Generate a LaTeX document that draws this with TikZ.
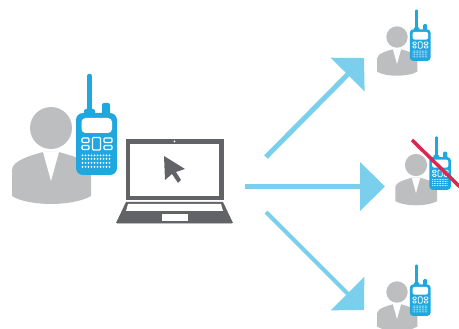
\documentclass[tikz,border=0pt]{standalone}
\usetikzlibrary{arrows.meta}
\definecolor{persongray}{HTML}{BCBEC0}
\definecolor{radioblue}{HTML}{1FA8DF}
\definecolor{arrowblue}{HTML}{7ACFEC}
\definecolor{laptopgray}{HTML}{626366}
\definecolor{crossred}{HTML}{D9274F}
\tikzset{
  signal/.style={arrowblue,line width=5pt},
  bighead/.style={-{Triangle[length=25pt,width=48pt,fill=arrowblue]}},
  diaghead/.style={-{Triangle[length=23.3pt,width=46.7pt,fill=arrowblue]}},
  radiokey/.style={draw=white,rounded corners=1pt}
}
% person with radio, origin at the centre of the head
\newcommand{\talker}[3]{
\begin{scope}[shift={(#1,#2)},scale=#3]
\fill[persongray] (0,0) circle (21);
\fill[persongray] (-39,42) .. controls (-39,32) and (-18,27) .. (-8,24) -- (8,24)
  .. controls (18,27) and (30,30) .. (40,37) -- (40,68)
  .. controls (30,74) and (12,76) .. (0,76) .. controls (-12,76) and (-30,74) .. (-39,68) -- cycle;
\fill[white] (-8,24) -- (0,53) -- (8,24) -- cycle;
\draw[radioblue,line width=#3*4.5pt,line cap=round] (38.5,-52) -- (38.5,-18);
\fill[radioblue,rounded corners=#3*2pt] (33,-19) rectangle (44,-13);
\fill[radioblue,rounded corners=#3*2pt] (51,-25) rectangle (59,-13);
\fill[radioblue,rounded corners=#3*7pt] (25,-15) rectangle (66,47);
\fill[white,rounded corners=#3*4pt] (30.5,-10) rectangle (61,5);
\begin{scope}[line width=#3*1.4pt]
\draw[radiokey] (31,10) rectangle (38,14.5);
\draw[radiokey] (31,17.5) rectangle (38,21.5);
\draw[radiokey] (41.5,9.5) rectangle (49.5,22);
\draw[radiokey] (53,10) rectangle (61,14.5);
\draw[radiokey] (53,17.5) rectangle (61,21.5);
\end{scope}
\foreach \dotrow in {27.5,31,35,39}
  \foreach \dotcol in {31.5,34.5,...,61}
    \fill[white] (\dotcol,\dotrow) circle (1);
\end{scope}
}
\begin{document}
\begin{tikzpicture}[x=1pt,y=-1pt]
\useasboundingbox (0,0) rectangle (459,329);

% left person
\talker{51}{128}{1}

% laptop
\fill[laptopgray] (126,139) rectangle (224,200);
\fill[white] (130,144) rectangle (219,196);
\fill[white] (174.5,141.5) circle (1);
\fill[laptopgray] (164,156) -- (185,169) -- (176,172) -- (181,180) -- (178,183) -- (172,174) -- (165,180) -- cycle;
\fill[laptopgray] (126,202) -- (223,202) -- (233,223) -- (116,223) -- cycle;
\fill[white] (128,204) -- (221,204) -- (223,211) -- (126,211) -- cycle;
\fill[white] (162,214) rectangle (188,221);
\draw[persongray,line width=1pt] (117,224) -- (232,224);

% arrows
\coordinate (start1) at (266,157);
\coordinate (end1) at (364,58);
\coordinate (start2) at (245,186.5);
\coordinate (end2) at (385,186.5);
\coordinate (start3) at (266,212);
\coordinate (end3) at (364,310);
\draw[signal,diaghead] (start1) -- (end1);
\draw[signal,bighead] (start2) -- (end2);
\draw[signal,diaghead,line width=4pt] (start3) -- (end3);

% right persons
\talker{397}{37}{0.51}
\talker{416}{165}{0.53}
\talker{397}{292}{0.51}

\coordinate (cross1) at (412,140);
\coordinate (cross2) at (460,187);
\draw[crossred,line width=3.5pt] (cross1) -- (cross2);
\end{tikzpicture}
\end{document}
